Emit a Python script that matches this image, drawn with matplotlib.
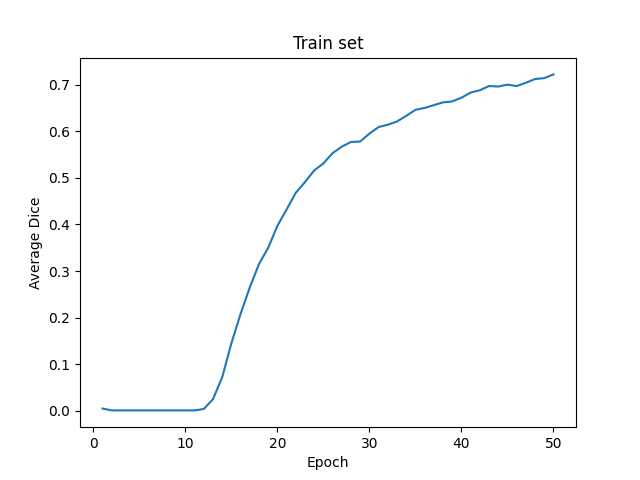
import matplotlib.pyplot as plt

epochs = list(range(1, 51))
dice = [0.005, 0.001, 0.001, 0.001, 0.001, 0.001, 0.001, 0.001, 0.001, 0.001,
        0.001, 0.004, 0.025, 0.072, 0.145, 0.208, 0.265, 0.315, 0.350, 0.397,
        0.432, 0.468, 0.491, 0.516, 0.531, 0.553, 0.567, 0.577, 0.578, 0.595,
        0.609, 0.614, 0.621, 0.633, 0.646, 0.650, 0.656, 0.662, 0.664, 0.672,
        0.683, 0.688, 0.697, 0.696, 0.700, 0.697, 0.704, 0.712, 0.714, 0.722]

fig, ax = plt.subplots(figsize=(6.4, 4.8), dpi=100)
ax.plot(epochs, dice)
ax.set_title('Train set')
ax.set_xlabel('Epoch')
ax.set_ylabel('Average Dice')
fig.savefig('out.png')
